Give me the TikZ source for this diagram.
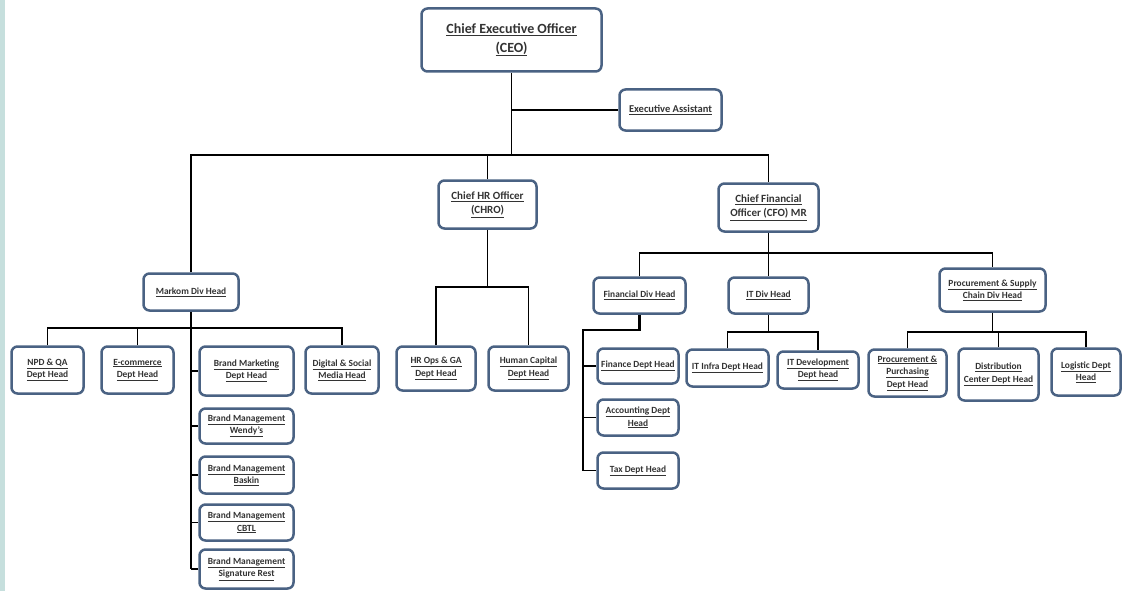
\documentclass[tikz,border=0pt]{standalone}
\usepackage{fontspec}
\setmainfont{Carlito}
\definecolor{boxblue}{HTML}{4A6283}
\definecolor{txtgray}{HTML}{333333}
\definecolor{stripteal}{HTML}{C6DFDD}

\begin{document}
\begin{tikzpicture}[x=1pt,y=-1pt,
  box/.style={draw=boxblue,line width=2.5pt,rounded corners=6pt,fill=white,
    align=center,text=txtgray,font=\fontsize{9.4}{12.5}\selectfont\bfseries,inner sep=1pt},
  chief/.style={box,font=\fontsize{11}{14.5}\selectfont\bfseries},
  link/.style={line width=1.5pt,black},
  spine/.style={line width=2.5pt,black}]

\useasboundingbox (0,0) rectangle (1123,591);
\fill[stripteal] (0,0) rectangle (5,591);

% top level
\node[box,minimum width=180,minimum height=63,font=\fontsize{14}{18.5}\selectfont\bfseries] (ceo) at (511.5,40) {\underline{Chief Executive Officer}\\\underline{(CEO)}};
\node[box,minimum width=102,minimum height=41,font=\fontsize{10.5}{13}\selectfont\bfseries] (ea) at (670.5,110) {\underline{Executive Assistant}};

\node[chief,minimum width=98,minimum height=48] (chro) at (487.5,204.5) {\underline{Chief HR Officer}\\\underline{(CHRO)}};
\node[chief,minimum width=100,minimum height=48] (cfo) at (768.5,207.5) {\underline{Chief Financial}\\\underline{Officer (CFO) MR}};

% markom
\node[box,minimum width=95,minimum height=37] (markom) at (191,292) {\underline{Markom Div Head}};
\node[box,minimum width=72,minimum height=47] (npd) at (47.5,370) {\underline{NPD \& QA}\\\underline{Dept Head}};
\node[box,minimum width=72,minimum height=47] (ecom) at (137.5,370) {\underline{E-commerce}\\\underline{Dept Head}};
\node[box,minimum width=94,minimum height=49] (brandmkt) at (246.5,371) {\underline{Brand Marketing}\\\underline{Dept Head}};
\node[box,minimum width=73,minimum height=47] (digital) at (342,370) {\underline{Digital \& Social}\\\underline{Media Head}};
\node[box,minimum width=94,minimum height=35] (wendys) at (246.5,426) {\underline{Brand Management}\\\underline{Wendy's}};
\node[box,minimum width=94,minimum height=37] (baskin) at (246.5,475) {\underline{Brand Management}\\\underline{Baskin}};
\node[box,minimum width=94,minimum height=36] (cbtl) at (246.5,522.5) {\underline{Brand Management}\\\underline{CBTL}};
\node[box,minimum width=94,minimum height=39] (sigrest) at (246.5,569) {\underline{Brand Management}\\\underline{Signature Rest}};

% hr
\node[box,minimum width=79,minimum height=44] (hrops) at (436,368.5) {\underline{HR Ops \& GA}\\\underline{Dept Head}};
\node[box,minimum width=80,minimum height=44] (humcap) at (528.5,368.5) {\underline{Human Capital}\\\underline{Dept Head}};

% finance, it, procurement
\node[box,minimum width=92,minimum height=36] (findiv) at (639.5,295.5) {\underline{Financial Div Head}};
\node[box,minimum width=80,minimum height=36] (itdiv) at (768.5,295.5) {\underline{IT Div Head}};
\node[box,minimum width=106,minimum height=43] (procdiv) at (992.5,290) {\underline{Procurement \& Supply}\\\underline{Chain Div Head}};

\node[box,minimum width=81,minimum height=35] (fin) at (638,366) {\underline{Finance Dept Head}};
\node[box,minimum width=81,minimum height=36] (acc) at (638,417.5) {\underline{Accounting Dept}\\\underline{Head}};
\node[box,minimum width=81,minimum height=36] (tax) at (638,470.5) {\underline{Tax Dept Head}};

\node[box,minimum width=82,minimum height=37] (itinfra) at (727.5,368) {\underline{IT Infra Dept Head}};
\node[box,minimum width=81,minimum height=37] (itdev) at (818,370) {\underline{IT Development}\\\underline{Dept head}};

\node[box,minimum width=78,minimum height=47] (procpur) at (907.5,373) {\underline{Procurement \&}\\\underline{Purchasing}\\\underline{Dept Head}};
\node[box,minimum width=80,minimum height=52] (distrib) at (998.5,374.5) {\underline{Distribution}\\\underline{Center Dept Head}};
\node[box,minimum width=69,minimum height=47] (logistic) at (1086,372) {\underline{Logistic Dept}\\\underline{Head}};

% bars
\coordinate (tb) at (511.5,155);
\coordinate (hb) at (487.5,287);
\coordinate (cb) at (768.5,253);
\coordinate (mb) at (191,328);
\coordinate (fs) at (583,330);
\coordinate (itb) at (768.5,332);
\coordinate (pb) at (992.5,332);

\draw[link] (ceo.south) -- (tb);
\draw[link] (ceo.south |- ea.west) -- (ea.west);
\draw[link] (markom.north) |- (tb) -| (cfo.north);
\draw[link] (chro.north) -- (chro.north |- tb);

\draw[link] (npd.north) |- (mb) -| (digital.north);
\draw[link] (ecom.north) -- (ecom.north |- mb);
\draw[spine] (markom.south) -- (markom.south |- sigrest.west);
\foreach \n in {brandmkt,wendys,baskin,cbtl,sigrest}
  \draw[link] (markom.south |- \n.west) -- (\n.west);

\draw[link] (chro.south) -- (hb);
\draw[link] (hrops.north) |- (hb) -| (humcap.north);

\draw[link] (cfo.south) -- (itdiv.north);
\draw[link] (findiv.north) |- (cb) -| (procdiv.north);

\draw[spine] (findiv.south) |- (fs) -- (fs |- tax.west);
\foreach \n in {fin,acc,tax}
  \draw[link] (fs |- \n.west) -- (\n.west);

\draw[link] (itdiv.south) -- (itb);
\draw[link] (itinfra.north) |- (itb) -| (itdev.north);

\draw[link] (procdiv.south) -- (pb);
\draw[link] (procpur.north) |- (pb) -| (logistic.north);
\draw[link] (distrib.north) -- (distrib.north |- pb);

\end{tikzpicture}
\end{document}
